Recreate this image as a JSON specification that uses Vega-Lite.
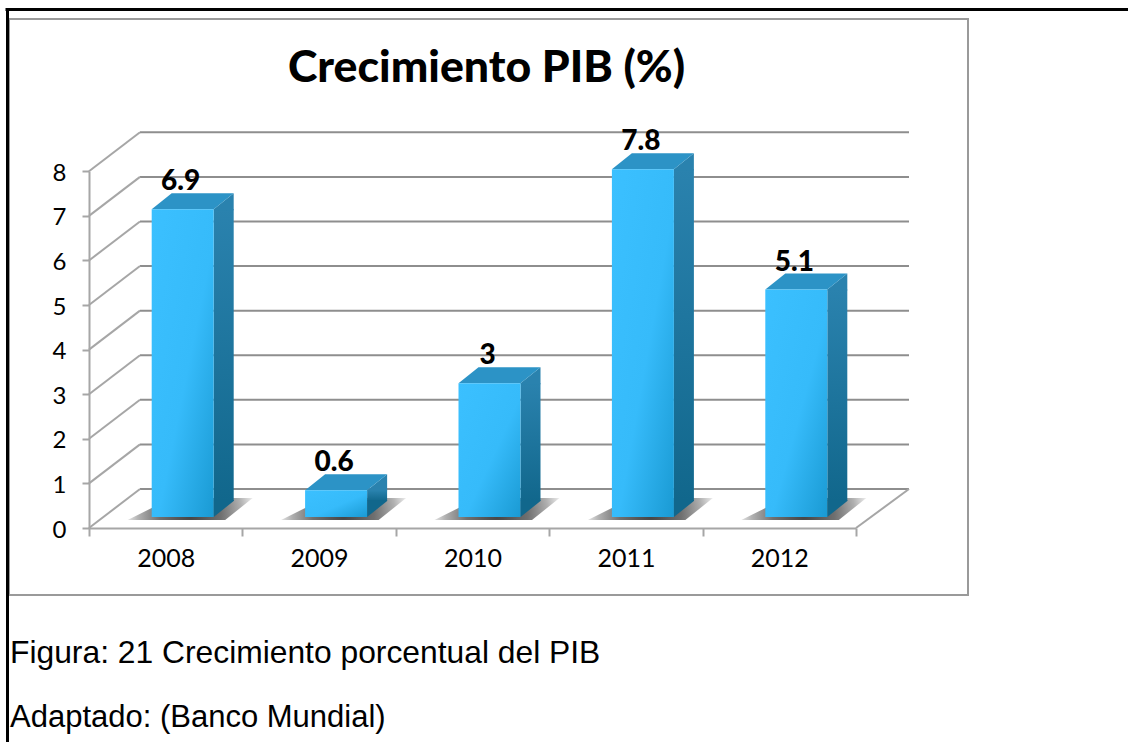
{
"$schema":"https://vega.github.io/schema/vega-lite/v6.json",
"width":1128,"height":742,"padding":0,"autosize":{"type":"none"},"background":"white",
"title":{"text":"Crecimiento PIB (%)","anchor":"start","frame":"group","dx":288,"offset":-92,"fontSize":44.6,"font":"Lato","fontWeight":900,"color":"#000000"},
"config":{"view":{"stroke":null}},
"data":{"values":[{"year":"2008","value":6.9},{"year":"2009","value":0.6},{"year":"2010","value":3},{"year":"2011","value":7.8},{"year":"2012","value":5.1}]},
"layer":[
{"data":{"values":[{}]},"mark":{"type":"rect","fillOpacity":0,"stroke":"#9A9A9A","strokeWidth":2},"encoding":{"x":{"value":9},"x2":{"value":968},"y":{"value":19},"y2":{"value":595}}},
{"data":{"values":[{}]},"mark":{"type":"rule","stroke":"#000000","strokeWidth":3},"encoding":{"x":{"value":5.5},"x2":{"value":1128},"y":{"value":9.5}}},
{"data":{"values":[{}]},"mark":{"type":"rule","stroke":"#000000","strokeWidth":3},"encoding":{"x":{"value":7.5},"y":{"value":9},"y2":{"value":742}}},
{"data":{"values":[{"k":0},{"k":1},{"k":2},{"k":3},{"k":4},{"k":5},{"k":6},{"k":7},{"k":8}]},"mark":{"type":"rule","stroke":"#8E8E8E","strokeWidth":2,"yOffset":-39},"encoding":{"x":{"value":140},"x2":{"value":909},"y":{"field":"k","type":"quantitative","scale":{"domain":[0,8],"range":[528,171.3],"nice":false,"zero":true},"axis":{"orient":"left","offset":-89,"title":null,"grid":false,"values":[0,1,2,3,4,5,6,7,8],"format":"d","domainColor":"#A6A6A6","domainWidth":2,"tickColor":"#A6A6A6","tickWidth":2,"tickSize":7,"labelFont":"Lato","labelFontSize":24,"labelColor":"#000000","labelPadding":16,"labelOffset":2}}}},
{"data":{"values":[{"k":0},{"k":1},{"k":2},{"k":3},{"k":4},{"k":5},{"k":6},{"k":7},{"k":8}]},"mark":{"type":"rule","stroke":"#A6A6A6","strokeWidth":2,"y2Offset":-39},"encoding":{"x":{"value":89},"x2":{"value":140},"y":{"field":"k","type":"quantitative"},"y2":{"field":"k"}}},
{"data":{"values":[{"k":0}]},"mark":{"type":"rule","stroke":"#A6A6A6","strokeWidth":2,"y2Offset":-39},"encoding":{"x":{"value":856},"x2":{"value":909},"y":{"field":"k","type":"quantitative"},"y2":{"field":"k"}}},
{"mark":{"type":"point","filled":true,"opacity":1,"size":10000,"shape":"M-1.1 0.06L-0.62 -0.18L-0.22 -0.38L1.4 -0.38L0.85 0.06Z","xOffset":17,"yOffset":-11,"fill":{"gradient":"radial","x1":0.5,"y1":0.55,"r1":0,"x2":0.5,"y2":0.55,"r2":0.55,"stops":[{"offset":0,"color":"#444444"},{"offset":0.45,"color":"#707070"},{"offset":0.75,"color":"#b0b0b0"},{"offset":1,"color":"#ffffff"}]}},"encoding":{"x":{"field":"year","type":"nominal","scale":{"range":[89,856],"paddingInner":0,"paddingOuter":0},"axis":{"orient":"bottom","offset":-214,"title":null,"tickBand":"extent","labelAngle":0,"domainColor":"#A6A6A6","domainWidth":2,"tickColor":"#A6A6A6","tickWidth":2,"tickSize":8,"labelFont":"Lato","labelFontSize":25,"labelColor":"#000000","labelPadding":10}},"y":{"datum":0,"type":"quantitative"}}},
{"mark":{"type":"bar","size":20,"xOffset":58,"yOffset":-11,"y2Offset":-27,"fill":{"gradient":"linear","x1":0,"y1":0,"x2":0,"y2":1,"stops":[{"offset":0,"color":"#2A82AE"},{"offset":1,"color":"#11678C"}]}},"encoding":{"x":{"field":"year","type":"nominal"},"y":{"field":"value","type":"quantitative"},"y2":{"datum":0}}},
{"mark":{"type":"point","filled":true,"opacity":1,"size":10000,"shape":"M0.62 0L1.02 -0.32L1.02 0.02L0.62 0.02Z","xOffset":17,"yOffset":-11,"fill":"#2A82AE"},"encoding":{"x":{"field":"year","type":"nominal"},"y":{"field":"value","type":"quantitative"}}},
{"mark":{"type":"point","filled":true,"opacity":1,"size":10000,"shape":"M0.62 0L0.62 -0.34L1.02 -0.34L1.02 -0.32Z","xOffset":17,"yOffset":-11,"fill":"#11678C"},"encoding":{"x":{"field":"year","type":"nominal"},"y":{"datum":0,"type":"quantitative"}}},
{"mark":{"type":"point","filled":true,"opacity":1,"size":10000,"shape":"M-0.62 0L0.62 0L1.02 -0.32L-0.22 -0.32Z","xOffset":17,"yOffset":-11,"fill":"#2C93C6"},"encoding":{"x":{"field":"year","type":"nominal"},"y":{"field":"value","type":"quantitative"}}},
{"mark":{"type":"bar","size":62,"xOffset":17,"yOffset":-11,"y2Offset":-11,"fill":{"gradient":"linear","x1":0,"y1":0,"x2":1,"y2":1,"stops":[{"offset":0,"color":"#3BC0FF"},{"offset":0.55,"color":"#36BBFA"},{"offset":1,"color":"#1A9AD3"}]}},"encoding":{"x":{"field":"year","type":"nominal"},"y":{"field":"value","type":"quantitative"},"y2":{"datum":0}}},
{"mark":{"type":"text","font":"Lato","fontWeight":900,"fontSize":28,"color":"#000000","xOffset":15,"yOffset":-30,"align":"center","baseline":"alphabetic"},"encoding":{"x":{"field":"year","type":"nominal"},"y":{"field":"value","type":"quantitative"},"text":{"field":"value","type":"quantitative","format":".1~f"}}},
{"data":{"values":[{"caption":"Figura: 21 Crecimiento porcentual del PIB"}]},"mark":{"type":"text","font":"Liberation Sans","fontSize":31.8,"color":"#000000","align":"left","baseline":"alphabetic"},"encoding":{"x":{"value":10},"y":{"value":663},"text":{"field":"caption"}}},
{"data":{"values":[{"caption":"Adaptado: (Banco Mundial)"}]},"mark":{"type":"text","font":"Liberation Sans","fontSize":31,"color":"#000000","align":"left","baseline":"alphabetic"},"encoding":{"x":{"value":10},"y":{"value":727},"text":{"field":"caption"}}}
]
}
